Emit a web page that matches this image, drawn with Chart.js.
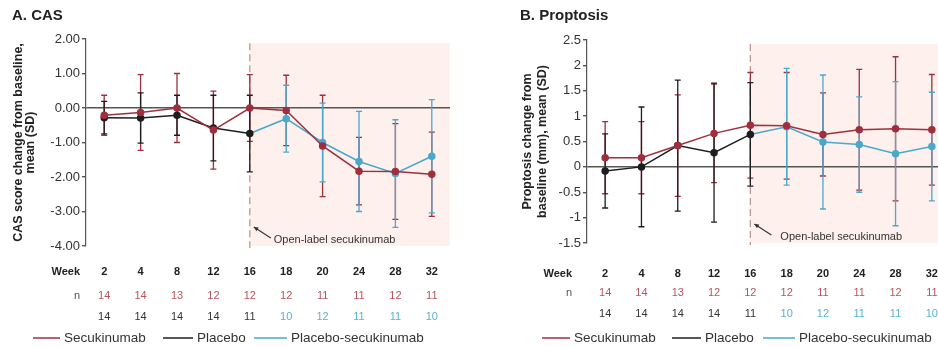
<!DOCTYPE html>
<html>
<head>
<meta charset="utf-8">
<script src="https://cdn.jsdelivr.net/npm/chart.js@4.4.0/dist/chart.umd.min.js"></script>
<style>
  html, body { margin: 0; padding: 0; background: #fff; }
  body { width: 938px; height: 347px; overflow: hidden; position: relative; }
  canvas { position: absolute; top: 0; }
  #casChart { left: 0; }
  #proptosisChart { left: 470px; }
</style>
</head>
<body>
<canvas id="casChart" width="470" height="347"></canvas>
<canvas id="proptosisChart" width="490" height="347"></canvas>
<script>
// visit weeks and patients per arm
const weeks = ['2', '4', '8', '12', '16', '18', '20', '24', '28', '32'];
const nSecukinumab = [14, 14, 13, 12, 12, 12, 11, 11, 12, 11];
const nPlacebo = [14, 14, 14, 14, 11, 10, 12, 11, 11, 10];

// CAS change from baseline, mean and SD
const casSecMean = [-0.21, -0.13, 0.0, -0.64, 0.0, -0.07, -1.10, -1.83, -1.84, -1.92];
const casSecSD = [0.58, 1.10, 1.00, 1.13, 0.97, 1.02, 1.47, 0.98, 1.39, 1.22];
const casPboMean = [-0.28, -0.29, -0.21, -0.58, -0.74, null, null, null, null, null];
const casPboSD = [0.47, 0.73, 0.58, 0.95, 1.11, null, null, null, null, null];
const casSwitchMean = [null, null, null, null, -0.74, -0.31, -1.00, -1.55, -1.90, -1.40];
const casSwitchSD = [null, null, null, null, null, 0.97, 1.14, 1.45, 1.56, 1.64];

// proptosis change from baseline (mm), mean and SD
const propSecMean = [0.18, 0.18, 0.42, 0.66, 0.82, 0.81, 0.64, 0.73, 0.75, 0.73];
const propSecSD = [0.71, 0.71, 1.00, 0.97, 1.04, 1.05, 0.82, 1.19, 1.42, 1.09];
const propPboMean = [-0.08, 0.0, 0.42, 0.28, 0.64, null, null, null, null, null];
const propPboSD = [0.73, 1.18, 1.29, 1.37, 1.02, null, null, null, null, null];
const propSwitchMean = [null, null, null, null, 0.64, 0.79, 0.49, 0.44, 0.26, 0.40];
const propSwitchSD = [null, null, null, null, null, 1.15, 1.32, 0.94, 1.42, 1.07];

const FONT = "'Liberation Sans', Arial, sans-serif";
const RED = '#a02f3d';
const BLACK = '#1e1e1e';
const CYAN = '#4aa8cb';

// vertical SD bars with caps, drawn under the lines
const errorBarPlugin = {
    id: 'errorBars',
    beforeDatasetsDraw(chart) {
        const { ctx, scales: { x, y } } = chart;
        chart.data.datasets.forEach(ds => {
            if (!ds.sd) return;
            ctx.save();
            ctx.strokeStyle = ds.borderColor;
            ctx.lineWidth = 1.3;
            ds.data.forEach((v, i) => {
                const sd = ds.sd[i];
                if (v == null || sd == null) return;
                const px = x.getPixelForValue(i);
                const top = y.getPixelForValue(v + sd);
                const bot = y.getPixelForValue(v - sd);
                ctx.beginPath();
                ctx.moveTo(px, top); ctx.lineTo(px, bot);
                ctx.moveTo(px - 3, top); ctx.lineTo(px + 3, top);
                ctx.moveTo(px - 3, bot); ctx.lineTo(px + 3, bot);
                ctx.stroke();
            });
            ctx.restore();
        });
    }
};

// shaded open-label period, dashed start line and its note
const openLabelPlugin = {
    id: 'openLabel',
    beforeDraw(chart, args, opts) {
        const { ctx, chartArea, scales: { x, y } } = chart;
        const x0 = x.getPixelForValue(opts.startIndex);
        const top = y.getPixelForValue(opts.top);
        ctx.save();
        ctx.fillStyle = '#fdf0ed';
        ctx.fillRect(x0, top, chartArea.right - x0, chartArea.bottom - top);
        ctx.restore();
    },
    beforeDatasetsDraw(chart, args, opts) {
        const { ctx, chartArea, scales: { x, y } } = chart;
        const x0 = x.getPixelForValue(opts.startIndex);
        const top = y.getPixelForValue(opts.top);
        const bottom = chartArea.bottom;
        ctx.save();
        ctx.strokeStyle = '#c4958f';
        ctx.lineWidth = 1.3;
        ctx.setLineDash([7, 4]);
        ctx.beginPath();
        ctx.moveTo(x0, top);
        ctx.lineTo(x0, bottom + 2);
        ctx.stroke();
        ctx.setLineDash([]);

        // arrow pointing at the dashed line
        const tipX = x0 + 4, tipY = bottom - 19;
        const tailX = x0 + 21, tailY = bottom - 8;
        ctx.strokeStyle = '#333';
        ctx.fillStyle = '#333';
        ctx.lineWidth = 1.1;
        ctx.beginPath();
        ctx.moveTo(tailX, tailY);
        ctx.lineTo(tipX, tipY);
        ctx.stroke();
        const ang = Math.atan2(tipY - tailY, tipX - tailX);
        ctx.beginPath();
        ctx.moveTo(tipX, tipY);
        ctx.lineTo(tipX - 5 * Math.cos(ang - 0.45), tipY - 5 * Math.sin(ang - 0.45));
        ctx.lineTo(tipX - 5 * Math.cos(ang + 0.45), tipY - 5 * Math.sin(ang + 0.45));
        ctx.closePath();
        ctx.fill();

        ctx.font = `11px ${FONT}`;
        ctx.textBaseline = 'middle';
        ctx.textAlign = 'left';
        ctx.fillText('Open-label secukinumab', x0 + opts.textDx, bottom - 6);
        ctx.restore();
    }
};

// n table under the week labels, then the legend line
const nTablePlugin = {
    id: 'nTable',
    afterDraw(chart, args, opts) {
        const { ctx, scales: { x } } = chart;
        const placebo = chart.data.datasets[1].data;
        ctx.save();
        ctx.textBaseline = 'middle';
        ctx.textAlign = 'right';
        ctx.font = `bold 11px ${FONT}`;
        ctx.fillStyle = '#222';
        ctx.fillText('Week', opts.headerRight, opts.weekY);
        ctx.font = `11px ${FONT}`;
        ctx.fillStyle = '#555';
        ctx.fillText('n', opts.headerRight, opts.nY[0]);

        ctx.textAlign = 'center';
        weeks.forEach((w, i) => {
            const px = x.getPixelForValue(i);
            ctx.fillStyle = '#b4545f';
            ctx.fillText(String(nSecukinumab[i]), px, opts.nY[0]);
            ctx.fillStyle = placebo[i] != null ? '#333' : '#5ab3cf';
            ctx.fillText(String(nPlacebo[i]), px, opts.nY[1]);
        });

        ctx.textAlign = 'left';
        ctx.font = `13.5px ${FONT}`;
        ctx.lineWidth = 1.5;
        chart.data.datasets.forEach((ds, i) => {
            const item = opts.legend[i];
            ctx.strokeStyle = ds.borderColor;
            ctx.beginPath();
            ctx.moveTo(item[0], opts.legendY);
            ctx.lineTo(item[1], opts.legendY);
            ctx.stroke();
            ctx.fillStyle = '#333';
            ctx.fillText(ds.label, item[1] + 4, opts.legendY);
        });
        ctx.restore();
    }
};

function makeDatasets(secMean, secSD, pboMean, pboSD, swMean, swSD) {
    const base = { borderWidth: 1.5, pointRadius: 3, pointHoverRadius: 3, tension: 0, spanGaps: false };
    return [
        { ...base, label: 'Secukinumab', data: secMean, sd: secSD,
          borderColor: RED, backgroundColor: RED },
        { ...base, label: 'Placebo', data: pboMean, sd: pboSD,
          borderColor: BLACK, backgroundColor: BLACK },
        { ...base, label: 'Placebo-secukinumab', data: swMean, sd: swSD,
          borderColor: CYAN, backgroundColor: CYAN,
          pointRadius: swSD.map(v => (v == null ? 0 : 3)) }
    ];
}

function makeChart(canvasId, cfg) {
    const ctx = document.getElementById(canvasId).getContext('2d');
    return new Chart(ctx, {
        type: 'line',
        data: { labels: weeks, datasets: cfg.datasets },
        plugins: [openLabelPlugin, errorBarPlugin, nTablePlugin],
        options: {
            responsive: false,
            animation: false,
            events: [],
            layout: { padding: { left: cfg.padLeft, right: cfg.padRight, top: 0, bottom: 0 } },
            plugins: {
                legend: { display: false },
                tooltip: { enabled: false },
                title: {
                    display: true,
                    text: cfg.title,
                    align: 'start',
                    color: '#222',
                    font: { family: FONT, size: 15, weight: 'bold' },
                    padding: { top: 7, bottom: cfg.titleGap }
                },
                openLabel: { startIndex: 4, top: cfg.shadeTop, textDx: cfg.noteDx },
                nTable: cfg.table
            },
            scales: {
                x: {
                    type: 'category',
                    offset: true,
                    grid: { display: false },
                    border: { display: false },
                    ticks: {
                        color: '#222',
                        padding: cfg.weekPad,
                        font: { family: FONT, size: 11, weight: 'bold' }
                    },
                    afterFit(scale) { scale.height = cfg.xHeight; }
                },
                y: {
                    min: cfg.yMin,
                    max: cfg.yMax,
                    ticks: {
                        stepSize: 0.5,
                        color: '#333',
                        padding: 2,
                        font: { family: FONT, size: 13 },
                        callback: cfg.tickFormat
                    },
                    grid: {
                        drawOnChartArea: true,
                        tickLength: 4,
                        tickColor: '#555',
                        lineWidth: 1.4,
                        color: c => (c.tick && c.tick.value === 0 ? '#555' : 'rgba(0,0,0,0)')
                    },
                    border: { color: '#555', width: 1.2 },
                    title: {
                        display: true,
                        text: cfg.yTitle,
                        color: '#222',
                        padding: { top: 0, bottom: 4 },
                        font: { family: FONT, size: 12.5, weight: 'bold', lineHeight: cfg.yTitleLine }
                    },
                    afterFit(scale) { scale.width = cfg.yWidth; }
                }
            }
        }
    });
}

makeChart('casChart', {
    title: 'A. CAS',
    datasets: makeDatasets(casSecMean, casSecSD, casPboMean, casPboSD, casSwitchMean, casSwitchSD),
    padLeft: 12, padRight: 20, yWidth: 74, xHeight: 101, titleGap: 14,
    yMin: -4, yMax: 2, shadeTop: 1.88, weekPad: 11, noteDx: 24,
    tickFormat: v => v.toFixed(2),
    yTitle: ['CAS score change from baseline,', 'mean (SD)'], yTitleLine: 1.0,
    table: {
        headerRight: 80, weekY: 272, nY: [296, 317], legendY: 338,
        legend: [[33, 60], [163, 193], [254, 287]]
    }
});

makeChart('proptosisChart', {
    title: 'B. Proptosis',
    datasets: makeDatasets(propSecMean, propSecSD, propPboMean, propPboSD, propSwitchMean, propSwitchSD),
    padLeft: 50, padRight: 10, yWidth: 67, xHeight: 104, titleGap: 15,
    yMin: -1.5, yMax: 2.5, shadeTop: 2.42, weekPad: 16, noteDx: 30,
    tickFormat: v => String(Math.round(v * 10) / 10),
    yTitle: ['Proptosis change from', 'baseline (mm), mean (SD)'], yTitleLine: 1.2,
    table: {
        headerRight: 102, weekY: 274, nY: [293, 314], legendY: 338,
        legend: [[72, 100], [202, 231], [293, 325]]
    }
});
</script>
</body>
</html>
